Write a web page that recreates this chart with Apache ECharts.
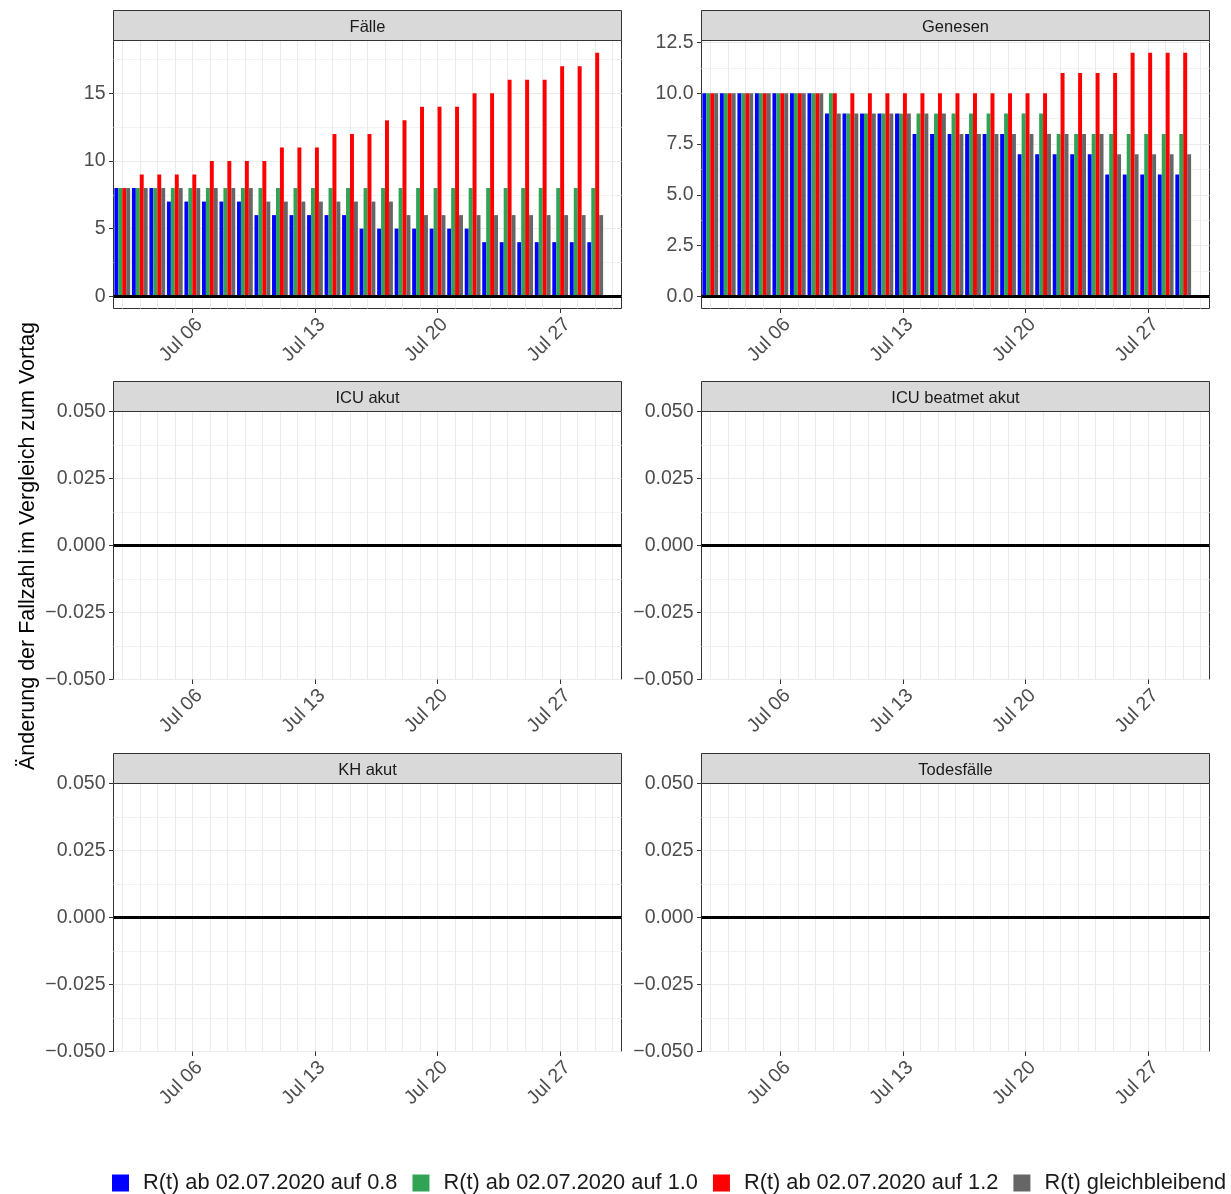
<!DOCTYPE html>
<html><head><meta charset="utf-8">
<script src="https://cdn.jsdelivr.net/npm/echarts@6/dist/echarts.min.js"></script>
<style>html,body{margin:0;padding:0;background:#fff}#chart{width:1231px;height:1194px}</style>
</head><body><div id="chart"></div>
<script>
// ---------- data ----------
const days = ['Jul 02','Jul 03','Jul 04','Jul 05','Jul 06','Jul 07','Jul 08','Jul 09','Jul 10','Jul 11',
  'Jul 12','Jul 13','Jul 14','Jul 15','Jul 16','Jul 17','Jul 18','Jul 19','Jul 20','Jul 21',
  'Jul 22','Jul 23','Jul 24','Jul 25','Jul 26','Jul 27','Jul 28','Jul 29','Jul 30'];
const tickLabels = ['Jul 06','Jul 13','Jul 20','Jul 27'];
const seriesNames = ['R(t) ab 02.07.2020 auf 0.8','R(t) ab 02.07.2020 auf 1.0','R(t) ab 02.07.2020 auf 1.2','R(t) gleichbleibend'];
const panelTitles = ['Fälle','Genesen','ICU akut','ICU beatmet akut','KH akut','Todesfälle'];

const faelle08    = [8,8,8,7,7,7,7,7,6,6,6,6,6,6,5,5,5,5,5,5,5,4,4,4,4,4,4,4];
const faelle10    = [8,8,8,8,8,8,8,8,8,8,8,8,8,8,8,8,8,8,8,8,8,8,8,8,8,8,8,8];
const faelle12    = [8,9,9,9,9,10,10,10,10,11,11,11,12,12,12,13,13,14,14,14,15,15,16,16,16,17,17,18];
const faelleKonst = [8,8,8,8,8,8,8,8,7,7,7,7,7,7,7,7,6,6,6,6,6,6,6,6,6,6,6,6];

const genesen08    = [10,10,10,10,10,10,10,9,9,9,9,9,8,8,8,8,8,8,7,7,7,7,7,6,6,6,6,6];
const genesen10    = [10,10,10,10,10,10,10,10,9,9,9,9,9,9,9,9,9,9,9,9,8,8,8,8,8,8,8,8];
const genesen12    = [10,10,10,10,10,10,10,10,10,10,10,10,10,10,10,10,10,10,10,10,11,11,11,11,12,12,12,12];
const genesenKonst = [10,10,10,10,10,10,10,9,9,9,9,9,9,9,8,8,8,8,8,8,8,8,8,7,7,7,7,7];

const icuAkut        = [0,0,0,0,0,0,0,0,0,0,0,0,0,0,0,0,0,0,0,0,0,0,0,0,0,0,0,0];
const icuBeatmetAkut = [0,0,0,0,0,0,0,0,0,0,0,0,0,0,0,0,0,0,0,0,0,0,0,0,0,0,0,0];
const khAkut         = [0,0,0,0,0,0,0,0,0,0,0,0,0,0,0,0,0,0,0,0,0,0,0,0,0,0,0,0];
const todesfaelle    = [0,0,0,0,0,0,0,0,0,0,0,0,0,0,0,0,0,0,0,0,0,0,0,0,0,0,0,0];

const yTicksFaelle  = [0,5,10,15];
const yTicksGenesen = [0,2.5,5,7.5,10,12.5];
const yTicksZero    = [-0.05,-0.025,0,0.025,0.05];

// ---------- styling ----------
const seriesColors = ['#0000FF','#31A354','#FF0000','#666666'];
const FONT = '"Liberation Sans", Arial, Helvetica, sans-serif';
const colLeft = [113.5, 701.5];
const rowTop = [40.5, 411.5, 783.5];
const panelW = 508, panelH = 268, stripH = 30;

const panels = [
  {title: panelTitles[0], data: [faelle08, faelle10, faelle12, faelleKonst], ticks: yTicksFaelle, dec: 0},
  {title: panelTitles[1], data: [genesen08, genesen10, genesen12, genesenKonst], ticks: yTicksGenesen, dec: 1},
  {title: panelTitles[2], data: [icuAkut, icuAkut, icuAkut, icuAkut], ticks: yTicksZero, dec: 3},
  {title: panelTitles[3], data: [icuBeatmetAkut, icuBeatmetAkut, icuBeatmetAkut, icuBeatmetAkut], ticks: yTicksZero, dec: 3},
  {title: panelTitles[4], data: [khAkut, khAkut, khAkut, khAkut], ticks: yTicksZero, dec: 3},
  {title: panelTitles[5], data: [todesfaelle, todesfaelle, todesfaelle, todesfaelle], ticks: yTicksZero, dec: 3}
];

const grids = [], xAxes = [], yAxes = [], series = [], graphics = [];
const showTick = (idx, val) => tickLabels.indexOf(val) >= 0;

panels.forEach((p, i) => {
  const left = colLeft[i % 2], top = rowTop[Math.floor(i / 2)];
  grids.push({left, top, width: panelW, height: panelH, show: true, borderColor: '#333333', borderWidth: 1,
    backgroundColor: 'transparent', containLabel: false, outerBoundsMode: 'none'});

  // y range like ggplot: bars start at 0, range expanded by 5%
  let lo = 0, hi = 0;
  p.data.forEach(arr => arr.forEach(v => { lo = Math.min(lo, v); hi = Math.max(hi, v); }));
  let ymin, ymax;
  if (hi === lo) { ymin = lo - 0.05; ymax = hi + 0.05; }
  else { const pad = 0.05 * (hi - lo); ymin = lo - pad; ymax = hi + pad; }
  const iv = p.ticks[1] - p.ticks[0];

  xAxes.push({
    type: 'category', gridIndex: i, data: days, boundaryGap: true,
    axisLine: {show: false, onZero: false},
    axisTick: {show: true, alignWithLabel: true, interval: showTick, length: 4.5, lineStyle: {color: '#333333', width: 1}},
    axisLabel: {show: true, interval: showTick, rotate: 45, align: 'right', verticalAlign: 'top', margin: 6,
      fontSize: 19.5, color: '#4D4D4D', fontFamily: FONT},
    splitLine: {show: true, interval: 0, alignWithLabel: true, lineStyle: {color: '#EBEBEB', width: 1}}
  });
  yAxes.push({
    type: 'value', gridIndex: i, min: ymin, max: ymax, minInterval: iv, maxInterval: iv,
    axisLine: {show: false, onZero: false},
    axisTick: {show: true, length: 4.5, lineStyle: {color: '#333333', width: 1}, customValues: p.ticks},
    axisLabel: {customValues: p.ticks, margin: 8, fontSize: 19.5, color: '#4D4D4D', fontFamily: FONT,
      formatter: v => { const s = Math.abs(v) < 1e-12 ? (0).toFixed(p.dec) : v.toFixed(p.dec); return s.replace('-', '\u2212'); }},
    splitLine: {show: true, lineStyle: {color: '#EBEBEB', width: 1}},
    minorTick: {show: false, splitNumber: 2},
    minorSplitLine: {show: true, lineStyle: {color: '#F2F2F2', width: 1}}
  });
  seriesNames.forEach((name, s) => {
    const ser = {
      type: 'bar', name, xAxisIndex: i, yAxisIndex: i, data: p.data[s],
      barWidth: '22.5%', barGap: '0%', itemStyle: {color: seriesColors[s]},
      emphasis: {disabled: true}, animation: false, silent: true
    };
    if (s === 3) {
      ser.markLine = {symbol: ['none', 'none'], silent: true, animation: false, label: {show: false},
        emphasis: {disabled: true}, lineStyle: {color: '#000000', width: 2.8, type: 'solid'}, data: [{yAxis: 0}]};
    }
    series.push(ser);
  });

  graphics.push({type: 'rect', shape: {x: left, y: top - stripH, width: panelW, height: stripH},
    style: {fill: '#D9D9D9', stroke: '#333333', lineWidth: 1}, silent: true, z: 10});
  graphics.push({type: 'text', x: left + panelW / 2, y: top - stripH / 2 + 1.5,
    style: {text: p.title, fontSize: 16.5, fill: '#1A1A1A', fontFamily: FONT, align: 'center', verticalAlign: 'middle'},
    silent: true, z: 11});
});

graphics.push({type: 'text', x: 28, y: 546, rotation: Math.PI / 2,
  style: {text: 'Änderung der Fallzahl im Vergleich zum Vortag', fontSize: 21.5, fill: '#000000', fontFamily: FONT,
    align: 'center', verticalAlign: 'middle'}, silent: true});

const chart = echarts.init(document.getElementById('chart'), null, {renderer: 'canvas', width: 1231, height: 1194});
chart.setOption({
  animation: false,
  backgroundColor: '#FFFFFF',
  grid: grids, xAxis: xAxes, yAxis: yAxes, series,
  legend: {data: seriesNames, left: 112, top: 1172, width: 1600, padding: 0, orient: 'horizontal', icon: 'rect',
    itemWidth: 17, itemHeight: 17, itemGap: 15, selectedMode: false,
    textStyle: {fontSize: 21.8, color: '#1A1A1A', fontFamily: FONT, padding: [0, 0, 0, 9]}},
  graphic: graphics
});
</script></body></html>
